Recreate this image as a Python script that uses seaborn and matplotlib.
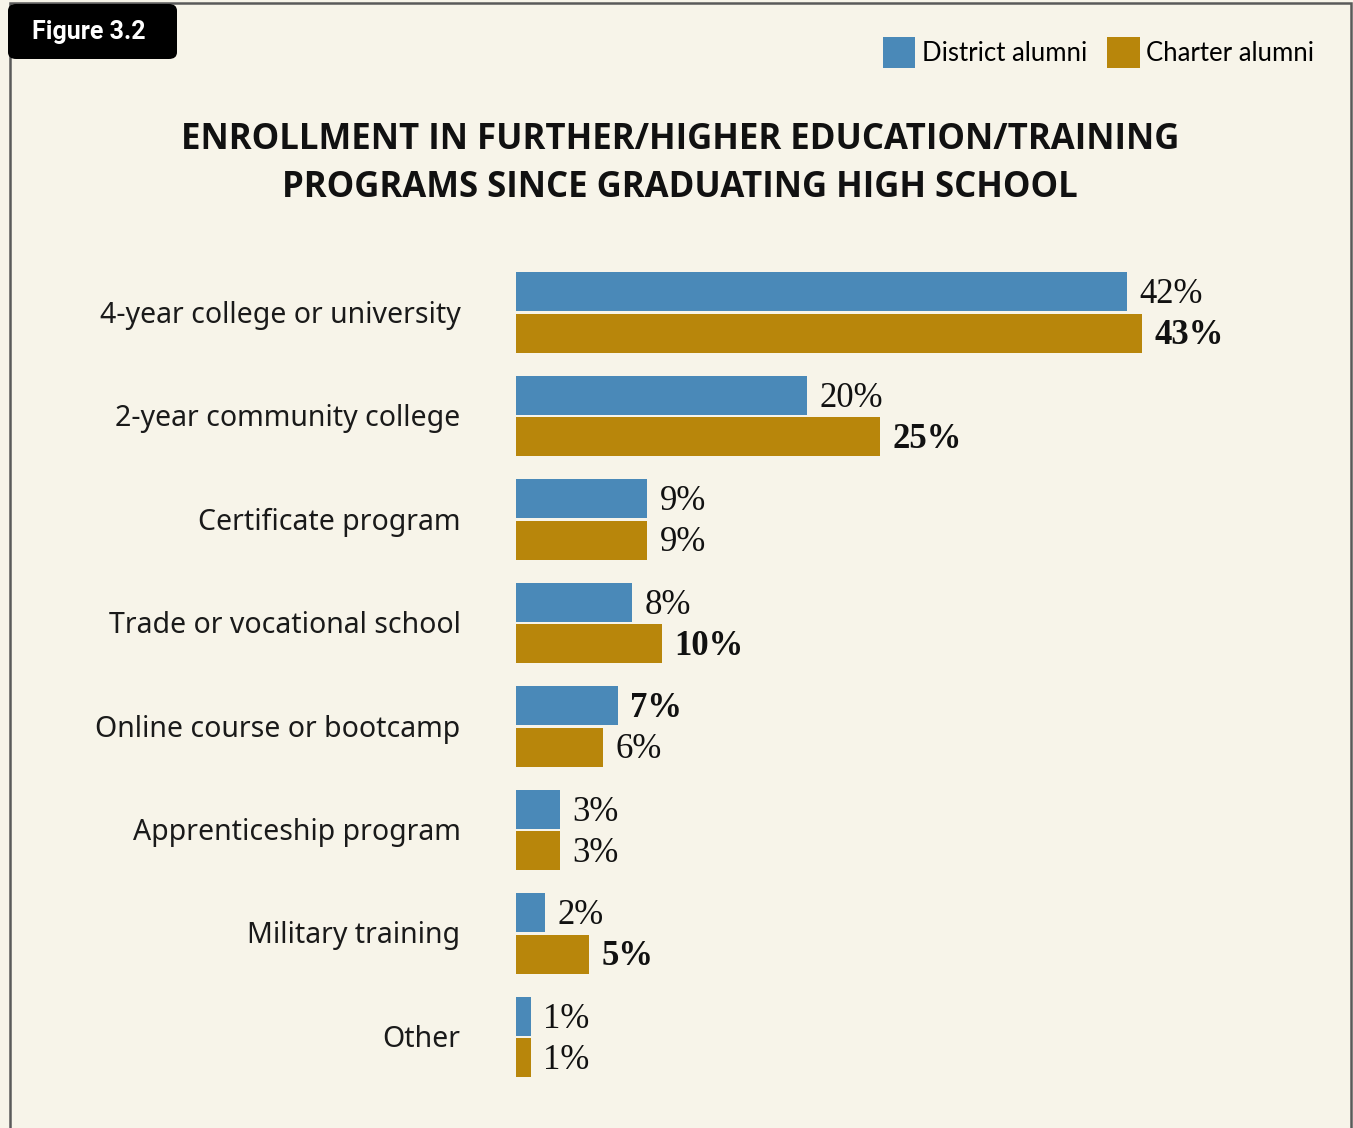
import pandas as pd
import matplotlib.pyplot as plt
import seaborn as sns
from matplotlib.patches import FancyBboxPatch, Rectangle, Patch
from matplotlib.transforms import ScaledTranslation

categories = ["4-year college or university", "2-year community college", "Certificate program",
              "Trade or vocational school", "Online course or bootcamp", "Apprenticeship program",
              "Military training", "Other"]
district = [42, 20, 9, 8, 7, 3, 2, 1]
charter = [43, 25, 9, 10, 6, 3, 5, 1]
series = ["District alumni", "Charter alumni"]
colors = ["#4A89B8", "#B8860B"]
bg = "#F7F4E9"

df = pd.DataFrame({
    "program": categories * 2,
    "pct": district + charter,
    "group": [series[0]] * len(categories) + [series[1]] * len(categories),
})

W, H = 1353, 1128
fig = plt.figure(figsize=(W / 100, H / 100), dpi=100, facecolor=bg)

# frame and badge
fig.patches.append(Rectangle((10 / W, -0.05), 1341 / W, 1.05 - 3 / H, transform=fig.transFigure,
                             fill=False, edgecolor="#5a5a5a", linewidth=1.8))
fig.patches.append(FancyBboxPatch((8 / W, 1 - 59 / H), 169 / W, 55 / H, transform=fig.transFigure,
                                  boxstyle="round,pad=0,rounding_size=0.006", facecolor="black",
                                  edgecolor="none"))
fig.text(32 / W, 1 - 32 / H, "Figure 3.2", color="white", fontsize=18, fontweight="bold",
         family="Roboto", va="center", ha="left")

fig.text(680 / W, 1 - 140 / H, "ENROLLMENT IN FURTHER/HIGHER EDUCATION/TRAINING",
         fontsize=25, fontweight="bold", family="Open Sans", ha="center", va="center", color="#111")
fig.text(680 / W, 1 - 188 / H, "PROGRAMS SINCE GRADUATING HIGH SCHOOL",
         fontsize=25, fontweight="bold", family="Open Sans", ha="center", va="center", color="#111")

ax = fig.add_axes([516 / W, 1 - 1088.75 / H, 727.5 / W, 828 / H])
ax.set_facecolor(bg)
sns.barplot(data=df, y="program", x="pct", hue="group", palette=colors, orient="h",
            width=0.8, gap=0.06, ax=ax, legend=False, saturation=1)
ax.set_xlim(0, 50)
ax.set_ylim(7.5, -0.5)
ax.set_xlabel("")
ax.set_ylabel("")
ax.set_xticks([])
ax.tick_params(axis="y", length=0, pad=40, labelsize=20.5)
shift = ScaledTranslation(0, 1 / 100, fig.dpi_scale_trans)
for lab in ax.get_yticklabels():
    lab.set_family("Noto Sans")
    lab.set_color("#1a1a1a")
    lab.set_transform(lab.get_transform() + shift)
for s in ax.spines.values():
    s.set_visible(False)

vals = [district, charter]
for i, cont in enumerate(ax.containers):
    other = vals[1 - i]
    texts = ax.bar_label(cont, labels=[f"{v}%" for v in vals[i]], padding=9, fontsize=25,
                         family="Liberation Serif", color="#111")
    for t, v, o in zip(texts, vals[i], other):
        t.xyann = (9, -2)
        if v > o:
            t.set_fontweight("bold")

handles = [Patch(facecolor=c, edgecolor="none") for c in colors]
fig.legend(handles, series, loc="upper right", bbox_to_anchor=(1314 / W, 1 - 37 / H), ncol=2,
           frameon=False, prop={"family": "Lato", "size": 18.5}, handlelength=1.25,
           handleheight=1.45, handletextpad=0.25, columnspacing=0.8, borderaxespad=0,
           borderpad=0)

fig.savefig("out.png", dpi=100, facecolor=bg)
